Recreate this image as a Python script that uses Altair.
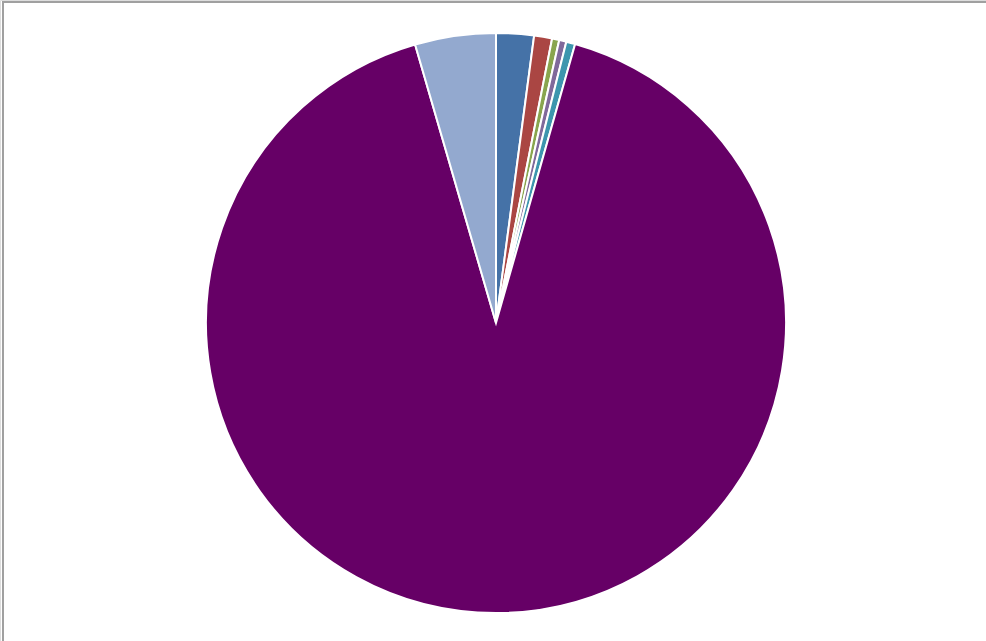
import altair as alt
import pandas as pd

categories = ["A", "B", "C", "D", "E", "F", "G"]
values = [2.1, 1.0, 0.4, 0.4, 0.5, 91.1, 4.5]
colors = ["#4572A7", "#AA4643", "#89A54E", "#80699B", "#3D96AE", "#660066", "#93A9CF"]

df = pd.DataFrame({"cat": categories, "val": values, "idx": list(range(len(categories)))})

cx, cy, r = 496, 323, 290

shadow = alt.Chart(pd.DataFrame({"v": [1]})).mark_arc(
    outerRadius=r + 1, color="#999999", opacity=0.35
).encode(theta=alt.Theta("v:Q"), x=alt.value(cx), y=alt.value(cy + 4))

pie = alt.Chart(df).mark_arc(outerRadius=r, stroke="white", strokeWidth=2).encode(
    theta=alt.Theta("val:Q", stack=True),
    color=alt.Color("cat:N", scale=alt.Scale(domain=categories, range=colors), legend=None),
    order=alt.Order("idx:Q"),
    x=alt.value(cx),
    y=alt.value(cy),
)

top_border = alt.Chart(pd.DataFrame({"v": [1]})).mark_rule(color="#A0A0A0", strokeWidth=2).encode(
    x=alt.value(2), x2=alt.value(986), y=alt.value(2)
)
left_border = alt.Chart(pd.DataFrame({"v": [1]})).mark_rule(color="#A0A0A0", strokeWidth=2).encode(
    x=alt.value(3), y=alt.value(2), y2=alt.value(641)
)

chart = alt.layer(shadow, pie, top_border, left_border).properties(
    width=986, height=641, padding=0, autosize=alt.AutoSizeParams(type="none")
).configure_view(stroke=None).configure(background="white")

chart.save("out.html", embed_options={"renderer": "svg", "actions": False})
